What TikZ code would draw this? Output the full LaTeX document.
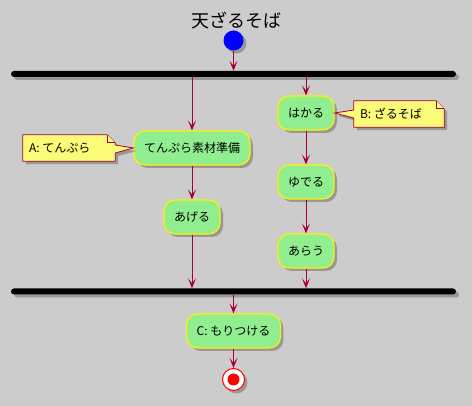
\documentclass[tikz,border=0pt]{standalone}
\usepackage{fontspec}
\newfontfamily\jpfont{Noto Sans CJK JP}
\usepackage{xcolor}
\usetikzlibrary{arrows.meta,positioning,shadows}
\definecolor{umlred}{HTML}{A80036}
\definecolor{actgreen}{HTML}{90EE90}
\definecolor{notefill}{HTML}{FBFB77}
\definecolor{bggray}{HTML}{CCCCCC}

\begin{document}
\begin{tikzpicture}[x=1pt,y=-1pt,
    shade/.style={drop shadow={shadow xshift=3pt,shadow yshift=-3pt,opacity=0.25,fill=black}},
    action/.style={draw=yellow,line width=1.2pt,fill=actgreen,rounded corners=11pt,
      minimum height=34pt,inner xsep=10pt,font=\jpfont\fontsize{12}{14}\selectfont,shade},
    bar/.style={fill=black,rounded corners=3pt,minimum width=445pt,minimum height=6pt,
      inner sep=0pt,shade},
    flow/.style={draw=umlred,line width=1pt,-{Stealth[length=10pt,width=8pt,inset=5pt]}},
    notespot/.style={inner sep=0pt,minimum height=26pt},
    notetext/.style={inner sep=0pt,font=\jpfont\fontsize{12}{14}\selectfont},
    notebox/.style={draw=umlred,fill=notefill,line width=0.8pt}]
  \useasboundingbox (0,0) rectangle (472,406);
  \fill[bggray] (0,0) rectangle (472,406);

  % title, start and fork
  \node[font=\jpfont\fontsize{18}{20}\selectfont] (title) at (236,20) {天ざるそば};
  \node[circle,fill=blue,minimum size=20pt,inner sep=0pt,shade] (start) at (233.5,40.5) {};
  \node[bar] (fork) at (233.5,74) {};

  % left branch
  \node[action] (tenpura) at (192,148) {てんぷら素材準備};
  \node[action] (ageru) at (192,217) {あげる};

  % right branch
  \node[action] (hakaru) at (306,113) {はかる};
  \node[action] (yuderu) at (306,182) {ゆでる};
  \node[action] (arau) at (306,251) {あらう};

  % join and end
  \node[bar] (join) at (233.5,291.5) {};
  \node[action] (mori) at (233.5,331) {C: もりつける};
  \node[circle,draw=red,line width=1pt,fill=white,minimum size=22pt,inner sep=0pt,shade] (stop) at (233.5,379.5) {};
  \node[circle,fill=red,minimum size=12pt,inner sep=0pt] (stopdot) at (stop) {};

  % notes
  \node[notespot,minimum width=92pt] (noteA) at (69,148) {};
  \draw[notebox,shade] (noteA.north west) -- ([xshift=-8pt]noteA.north east)
    -- ([yshift=-8pt]noteA.north east) -- ([yshift=3pt]noteA.east) -- (tenpura.west)
    -- ([yshift=-5pt]noteA.east) -- (noteA.south east) -- (noteA.south west) -- cycle;
  \draw[notebox] ([xshift=-8pt]noteA.north east) -- ([xshift=-8pt,yshift=-8pt]noteA.north east)
    -- ([yshift=-8pt]noteA.north east);
  \node[notetext,anchor=west] at ([xshift=6pt]noteA.west) {A: てんぷら};

  \node[notespot,minimum width=90pt] (noteB) at (399,114) {};
  \draw[notebox,shade] (noteB.north west) -- ([xshift=-8pt]noteB.north east)
    -- ([yshift=-8pt]noteB.north east) -- (noteB.south east) -- (noteB.south west)
    -- ([yshift=-4pt]noteB.west) -- (hakaru.east) -- ([yshift=4pt]noteB.west) -- cycle;
  \draw[notebox] ([xshift=-8pt]noteB.north east) -- ([xshift=-8pt,yshift=-8pt]noteB.north east)
    -- ([yshift=-8pt]noteB.north east);
  \node[notetext,anchor=west] at ([xshift=6pt]noteB.west) {B: ざるそば};

  % connectors
  \draw[flow] (start) -- (fork);
  \draw[flow] (fork.south -| tenpura) -- (tenpura);
  \draw[flow] (tenpura) -- (ageru);
  \draw[flow] (ageru) -- (join.north -| ageru);
  \draw[flow] (fork.south -| hakaru) -- (hakaru);
  \draw[flow] (hakaru) -- (yuderu);
  \draw[flow] (yuderu) -- (arau);
  \draw[flow] (arau) -- (join.north -| arau);
  \draw[flow] (join) -- (mori);
  \draw[flow] (mori) -- (stop);
\end{tikzpicture}
\end{document}
